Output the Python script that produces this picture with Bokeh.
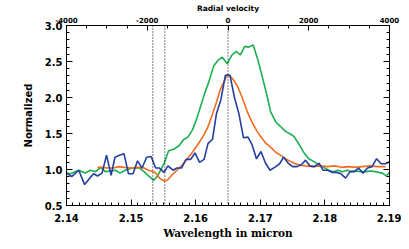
from bokeh.plotting import figure
from bokeh.models import (Range1d, LinearAxis, SingleIntervalTicker, Span,
                          PrintfTickFormatter)
from bokeh.embed import file_html
from bokeh.resources import INLINE

# ---- data ----
blue_w = [2.1400, 2.1408, 2.1419, 2.1428, 2.1436, 2.1442, 2.1448, 2.1455, 2.1462, 2.1469,
          2.1475, 2.1483, 2.1489, 2.1496, 2.1503, 2.1510, 2.1517, 2.1524, 2.1531, 2.1538,
          2.1544, 2.1551, 2.1557, 2.1565, 2.1571, 2.1578, 2.1585, 2.1592, 2.1599, 2.1606,
          2.1613, 2.1619, 2.1626, 2.1632, 2.1639, 2.1646, 2.1653, 2.1660, 2.1667, 2.1674,
          2.1681, 2.1687, 2.1694, 2.1701, 2.1708, 2.1715, 2.1724, 2.1730, 2.1736, 2.1743,
          2.1750, 2.1757, 2.1764, 2.1770, 2.1777, 2.1784, 2.1791, 2.1797, 2.1804, 2.1811,
          2.1818, 2.1825, 2.1832, 2.1839, 2.1846, 2.1852, 2.1859, 2.1866, 2.1873, 2.1880,
          2.1887, 2.1894, 2.1900]
blue_v = [0.95, 0.90, 0.99, 0.79, 0.88, 0.94, 0.91, 0.95, 1.20, 0.92,
          1.17, 1.20, 1.22, 0.94, 0.94, 1.12, 1.02, 1.17, 1.18, 1.02,
          1.02, 0.96, 1.05, 0.99, 1.02, 1.02, 1.14, 1.14, 1.23, 1.10,
          1.14, 1.36, 1.42, 1.77, 1.97, 2.31, 2.31, 2.00, 1.77, 1.44,
          1.45, 1.35, 1.15, 1.25, 1.09, 0.99, 1.04, 1.08, 1.17, 1.09,
          1.04, 1.04, 1.07, 1.13, 1.05, 1.04, 1.09, 0.99, 0.99, 0.96,
          0.96, 0.94, 0.88, 0.97, 0.97, 1.02, 0.95, 1.02, 1.04, 1.15,
          1.08, 1.08, 1.11]

green_w = [2.1400, 2.1406, 2.1419, 2.1429, 2.1437, 2.1445, 2.1453, 2.1460, 2.1468, 2.1476,
           2.1483, 2.1491, 2.1502, 2.1513, 2.1520, 2.1527, 2.1535, 2.1541, 2.1551, 2.1558,
           2.1566, 2.1574, 2.1582, 2.1588, 2.1595, 2.1601, 2.1607, 2.1614, 2.1620, 2.1628,
           2.1635, 2.1641, 2.1649, 2.1656, 2.1663, 2.1669, 2.1676, 2.1682, 2.1689, 2.1696,
           2.1703, 2.1710, 2.1716, 2.1724, 2.1731, 2.1739, 2.1747, 2.1752, 2.1760, 2.1767,
           2.1775, 2.1783, 2.1791, 2.1798, 2.1806, 2.1813, 2.1820, 2.1827, 2.1835, 2.1841,
           2.1847, 2.1855, 2.1863, 2.1871, 2.1878, 2.1889, 2.1895, 2.1900]
green_v = [0.95, 0.94, 0.99, 0.95, 0.99, 0.97, 1.03, 0.97, 0.98, 0.99,
           0.95, 0.99, 1.02, 1.02, 0.97, 0.91, 0.85, 0.91, 1.08, 1.26,
           1.28, 1.33, 1.42, 1.45, 1.55, 1.69, 1.86, 2.06, 2.21, 2.44,
           2.52, 2.56, 2.47, 2.59, 2.64, 2.59, 2.71, 2.70, 2.73, 2.53,
           2.29, 2.04, 1.80, 1.66, 1.60, 1.53, 1.49, 1.46, 1.35, 1.24,
           1.15, 1.11, 1.06, 1.03, 0.99, 0.97, 0.99, 0.97, 0.99, 0.97,
           0.98, 0.97, 0.97, 0.98, 0.97, 0.95, 0.91, 0.96]

orange_w = [2.1448, 2.1455, 2.1463, 2.1473, 2.1481, 2.1489, 2.1499, 2.1512, 2.1520, 2.1527,
            2.1535, 2.1538, 2.1544, 2.1551, 2.1556, 2.1564, 2.1571, 2.1579, 2.1587, 2.1595,
            2.1602, 2.1610, 2.1618, 2.1626, 2.1632, 2.1638, 2.1645, 2.1649, 2.1654, 2.1659,
            2.1665, 2.1672, 2.1680, 2.1687, 2.1695, 2.1702, 2.1708, 2.1716, 2.1724, 2.1731,
            2.1739, 2.1747, 2.1754, 2.1762, 2.1770, 2.1781, 2.1793, 2.1804, 2.1815, 2.1826,
            2.1837, 2.1847, 2.1858, 2.1871, 2.1881, 2.1894]
orange_v = [1.03, 1.03, 1.02, 1.02, 1.04, 1.03, 1.02, 1.03, 1.02, 0.99,
            0.97, 0.95, 0.88, 0.84, 0.85, 0.93, 0.99, 1.06, 1.15, 1.24,
            1.33, 1.44, 1.57, 1.77, 1.93, 2.11, 2.24, 2.32, 2.29, 2.24,
            2.15, 2.00, 1.80, 1.66, 1.53, 1.44, 1.37, 1.31, 1.24, 1.20,
            1.15, 1.11, 1.08, 1.06, 1.05, 1.04, 1.05, 1.04, 1.05, 1.03,
            1.04, 1.03, 1.04, 1.05, 1.04, 1.04]

marker_lines = [2.15336, 2.15522, 2.1650]   # dotted vertical markers (micron)
velocity_range = [-4000, 4000]               # top axis (km/s)

GREEN = "#1aae4e"
ORANGE = "#f26b21"
BLUE = "#233f9f"
FONT = "DejaVu Sans"

p = figure(width=401, height=241, x_range=Range1d(2.14, 2.19), y_range=Range1d(0.5, 3.0),
           output_backend="svg", toolbar_location=None,
           x_axis_location=None, y_axis_location=None,
           min_border_left=66, min_border_right=12, min_border_top=20, min_border_bottom=34)
p.background_fill_color = "white"
p.border_fill_color = "white"
p.outline_line_color = "black"
p.outline_line_width = 1
p.xgrid.visible = False
p.ygrid.visible = False
p.extra_x_ranges = {"vel": Range1d(velocity_range[0], velocity_range[1])}


def style(ax, size):
    ax.axis_line_color = "black"
    ax.major_tick_line_color = "black"
    ax.minor_tick_line_color = "black"
    ax.major_tick_in = 6
    ax.major_tick_out = 0
    ax.minor_tick_in = 3
    ax.minor_tick_out = 0
    ax.major_label_text_font = FONT
    ax.major_label_text_font_style = "bold"
    ax.major_label_text_font_size = size
    ax.major_label_text_color = "black"
    ax.axis_label_text_color = "black"


bottom = LinearAxis(ticker=SingleIntervalTicker(interval=0.01, num_minor_ticks=10),
                    formatter=PrintfTickFormatter(format="%.2f"),
                    axis_label="Wavelength in micron")
style(bottom, "10px")
bottom.major_label_standoff = 8
bottom.axis_label_text_font = "DejaVu Serif"
bottom.axis_label_text_font_style = "bold"
bottom.axis_label_text_font_size = "10.5px"
bottom.axis_label_standoff = 2
p.add_layout(bottom, "below")

left = LinearAxis(ticker=SingleIntervalTicker(interval=0.5, num_minor_ticks=5),
                  formatter=PrintfTickFormatter(format="%.1f"),
                  axis_label="Normalized")
style(left, "10px")
left.major_label_standoff = 4
left.axis_label_text_font = FONT
left.axis_label_text_font_style = "bold"
left.axis_label_text_font_size = "10px"
left.axis_label_standoff = 8
p.add_layout(left, "left")

top = LinearAxis(x_range_name="vel",
                 ticker=SingleIntervalTicker(interval=2000, num_minor_ticks=4),
                 formatter=PrintfTickFormatter(format="%d"),
                 axis_label="Radial velocity")
style(top, "7px")
top.major_tick_in = 5
top.major_label_standoff = 3
top.axis_label_text_font = FONT
top.axis_label_text_font_style = "bold"
top.axis_label_text_font_size = "7.5px"
top.axis_label_standoff = 1
p.add_layout(top, "above")

right = LinearAxis(ticker=SingleIntervalTicker(interval=0.5, num_minor_ticks=5))
style(right, "0px")
right.major_label_text_alpha = 0
right.major_label_standoff = 0
p.add_layout(right, "right")

p.line(green_w, green_v, line_color=GREEN, line_width=1.6)
p.line(orange_w, orange_v, line_color=ORANGE, line_width=1.6)
p.line(blue_w, blue_v, line_color=BLUE, line_width=1.6)

for w in marker_lines:
    p.add_layout(Span(location=w, dimension="height", line_color="black",
                      line_width=1, line_dash="1 2"))

open("out.html", "w").write(file_html(p, INLINE))
